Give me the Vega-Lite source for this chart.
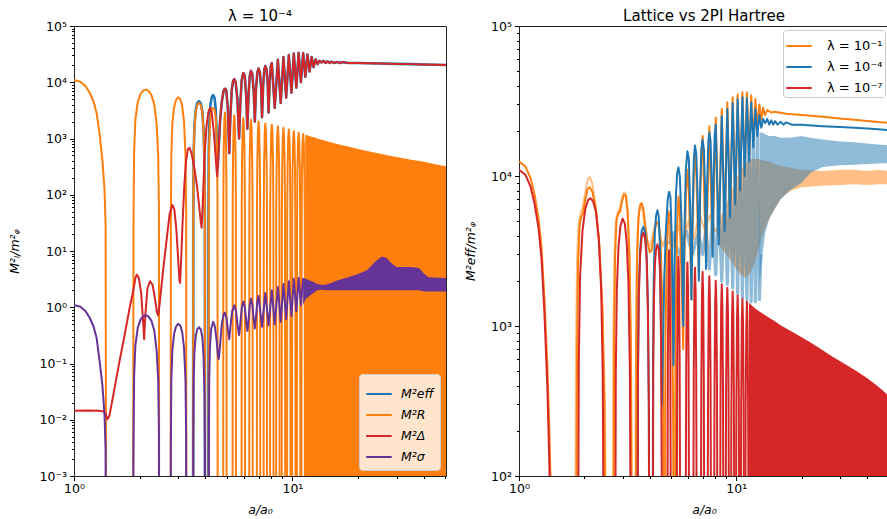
{
"$schema":"https://vega.github.io/schema/vega-lite/v6.json",
"background":"white",
"padding":{"left":8,"top":8,"right":0,"bottom":0},
"config":{
 "font":"DejaVu Sans",
 "view":{"stroke":"#222","strokeWidth":1},
 "axis":{"grid":false,"domain":false,"labelFont":"DejaVu Sans","labelFontSize":12.5,"labelColor":"#000","titleFont":"DejaVu Sans","titleFontSize":12.5,"titleFontWeight":"normal","titleFontStyle":"italic","titleColor":"#000","tickColor":"#000","tickWidth":1,"labelPadding":3,"labelOverlap":false,"labelFlush":false,"labelBound":false},
 "title":{"font":"DejaVu Sans","fontSize":15,"fontWeight":"normal","color":"#000","offset":-3.5},
 "legend":{"labelFont":"DejaVu Sans","labelFontSize":12.5,"labelColor":"#000","symbolType":"stroke","symbolStrokeWidth":2,"fillColor":"rgba(255,255,255,0.8)","strokeColor":"#cccccc","cornerRadius":3,"padding":6,"labelOffset":8}
},
"datasets":{
"A":[
{"x":1,"g":0,"o":11000,"r":11000},{"x":1.07,"g":0,"o":10200,"r":10200},{"x":1.13,"g":0,"o":8500,"r":8500},{"x":1.18,"g":0,"o":6500,"r":6500},{"x":1.23,"g":0,"o":4500,"r":4500},{"x":1.27,"g":0,"o":2800,"r":2800},{"x":1.31,"g":0,"o":1200,"r":1200},{"x":1.35,"g":0,"o":400,"r":400},{"x":1.38,"g":0,"o":120,"r":120},{"x":1.395,"g":0,"o":30,"r":30},{"x":1.405,"g":0,"o":1e-5,"r":1e-5},
{"x":1.865,"g":1,"o":1e-5,"r":1e-5},{"x":1.872,"g":1,"o":30,"r":29},{"x":1.885,"g":1,"o":600,"r":576},{"x":1.91,"g":1,"o":2200,"r":2110},{"x":1.96,"g":1,"o":4500,"r":4320},{"x":2.02,"g":1,"o":6300,"r":6050},{"x":2.08,"g":1,"o":7200,"r":6910},{"x":2.13,"g":1,"o":7400,"r":7100},{"x":2.19,"g":1,"o":7100,"r":6820},{"x":2.26,"g":1,"o":6000,"r":5760},{"x":2.33,"g":1,"o":4000,"r":3840},{"x":2.39,"g":1,"o":1800,"r":1730},{"x":2.43,"g":1,"o":500,"r":480},{"x":2.448,"g":1,"o":60,"r":58},{"x":2.455,"g":1,"o":1e-5,"r":1e-5},
{"x":2.77,"g":2,"o":1e-5,"r":1e-5},{"x":2.776,"g":2,"o":30,"r":29},{"x":2.79,"g":2,"o":500,"r":480},{"x":2.82,"g":2,"o":1800,"r":1730},{"x":2.87,"g":2,"o":3500,"r":3370},{"x":2.93,"g":2,"o":4800,"r":4620},{"x":3.0,"g":2,"o":5400,"r":5200},{"x":3.07,"g":2,"o":5000,"r":4820},{"x":3.13,"g":2,"o":3800,"r":3660},{"x":3.19,"g":2,"o":2000,"r":1930},{"x":3.24,"g":2,"o":500,"r":480},{"x":3.262,"g":2,"o":50,"r":48},{"x":3.27,"g":2,"o":1e-5,"r":1e-5},
{"x":3.51,"g":3,"o":1e-5,"r":1e-5},{"x":3.516,"g":3,"o":30,"r":29},{"x":3.53,"g":3,"o":500,"r":490},{"x":3.56,"g":3,"o":1600,"r":1560},{"x":3.61,"g":3,"o":3000,"r":2930},{"x":3.67,"g":3,"o":4000,"r":3910},{"x":3.74,"g":3,"o":4300,"r":4200},{"x":3.81,"g":3,"o":3900,"r":3810},{"x":3.87,"g":3,"o":2800,"r":2740},{"x":3.92,"g":3,"o":1300,"r":1270},{"x":3.96,"g":3,"o":300,"r":293},{"x":3.975,"g":3,"o":30,"r":29},{"x":3.98,"g":3,"o":1e-5,"r":1e-5},
{"x":4.13,"g":4,"o":1e-5,"r":1e-5},{"x":4.136,"g":4,"o":30,"r":30},{"x":4.15,"g":4,"o":500,"r":500},{"x":4.18,"g":4,"o":1500,"r":1500},{"x":4.23,"g":4,"o":2700,"r":2700},{"x":4.28,"g":4,"o":3300,"r":3300},{"x":4.34,"g":4,"o":3500,"r":3500},{"x":4.4,"g":4,"o":3200,"r":3200},{"x":4.46,"g":4,"o":2300,"r":2300},{"x":4.51,"g":4,"o":800,"r":800},{"x":4.54,"g":4,"o":100,"r":100},{"x":4.55,"g":4,"o":1e-5,"r":1e-5},
{"x":4.82,"g":5,"o":1e-5,"r":1e-5},{"x":4.829,"g":5,"o":87,"r":96},{"x":4.847,"g":5,"o":580,"r":640},{"x":4.8785,"g":5,"o":2030,"r":2240},{"x":4.91,"g":5,"o":2900,"r":3200},{"x":4.9415,"g":5,"o":2030,"r":2240},{"x":4.973,"g":5,"o":580,"r":640},{"x":4.991,"g":5,"o":87,"r":96},{"x":5.0,"g":5,"o":1e-5,"r":1e-5},
{"x":5.32,"g":6,"o":1e-5,"r":1e-5},{"x":5.33,"g":6,"o":78,"r":87},{"x":5.35,"g":6,"o":520,"r":580},{"x":5.385,"g":6,"o":1820,"r":2030},{"x":5.42,"g":6,"o":2600,"r":2900},{"x":5.455,"g":6,"o":1820,"r":2030},{"x":5.49,"g":6,"o":520,"r":580},{"x":5.51,"g":6,"o":78,"r":87},{"x":5.52,"g":6,"o":1e-5,"r":1e-5},
{"x":5.85,"g":7,"o":1e-5,"r":1e-5},{"x":5.861,"g":7,"o":69,"r":80},{"x":5.883,"g":7,"o":460,"r":530},{"x":5.9215,"g":7,"o":1610,"r":1855},{"x":5.96,"g":7,"o":2300,"r":2650},{"x":5.9985,"g":7,"o":1610,"r":1855},{"x":6.037,"g":7,"o":460,"r":530},{"x":6.059,"g":7,"o":69,"r":80},{"x":6.07,"g":7,"o":1e-5,"r":1e-5},
{"x":6.34,"g":8,"o":1e-5,"r":1e-5},{"x":6.352,"g":8,"o":65,"r":74},{"x":6.376,"g":8,"o":430,"r":490},{"x":6.418,"g":8,"o":1505,"r":1715},{"x":6.46,"g":8,"o":2150,"r":2450},{"x":6.502,"g":8,"o":1505,"r":1715},{"x":6.544,"g":8,"o":430,"r":490},{"x":6.568,"g":8,"o":65,"r":74},{"x":6.58,"g":8,"o":1e-5,"r":1e-5},
{"x":6.87,"g":9,"o":1e-5,"r":1e-5},{"x":6.883,"g":9,"o":60,"r":69},{"x":6.909,"g":9,"o":400,"r":460},{"x":6.9545,"g":9,"o":1400,"r":1610},{"x":7.0,"g":9,"o":2000,"r":2300},{"x":7.0455,"g":9,"o":1400,"r":1610},{"x":7.091,"g":9,"o":400,"r":460},{"x":7.117,"g":9,"o":60,"r":69},{"x":7.13,"g":9,"o":1e-5,"r":1e-5},
{"x":7.38,"g":10,"o":1e-5,"r":1e-5},{"x":7.394,"g":10,"o":56,"r":65},{"x":7.422,"g":10,"o":370,"r":430},{"x":7.471,"g":10,"o":1295,"r":1505},{"x":7.52,"g":10,"o":1850,"r":2150},{"x":7.569,"g":10,"o":1295,"r":1505},{"x":7.618,"g":10,"o":370,"r":430},{"x":7.646,"g":10,"o":56,"r":65},{"x":7.66,"g":10,"o":1e-5,"r":1e-5},
{"x":7.9,"g":11,"o":1e-5,"r":1e-5},{"x":7.915,"g":11,"o":53,"r":60},{"x":7.945,"g":11,"o":350,"r":400},{"x":7.9975,"g":11,"o":1225,"r":1400},{"x":8.05,"g":11,"o":1750,"r":2000},{"x":8.1025,"g":11,"o":1225,"r":1400},{"x":8.155,"g":11,"o":350,"r":400},{"x":8.185,"g":11,"o":53,"r":60},{"x":8.2,"g":11,"o":1e-5,"r":1e-5},
{"x":8.42,"g":12,"o":1e-5,"r":1e-5},{"x":8.436,"g":12,"o":50,"r":57},{"x":8.468,"g":12,"o":330,"r":380},{"x":8.524,"g":12,"o":1155,"r":1330},{"x":8.58,"g":12,"o":1650,"r":1900},{"x":8.636,"g":12,"o":1155,"r":1330},{"x":8.692,"g":12,"o":330,"r":380},{"x":8.724,"g":12,"o":50,"r":57},{"x":8.74,"g":12,"o":1e-5,"r":1e-5},
{"x":8.93,"g":13,"o":1e-5,"r":1e-5},{"x":8.947,"g":13,"o":47,"r":54},{"x":8.981,"g":13,"o":310,"r":360},{"x":9.0405,"g":13,"o":1085,"r":1260},{"x":9.1,"g":13,"o":1550,"r":1800},{"x":9.1595,"g":13,"o":1085,"r":1260},{"x":9.219,"g":13,"o":310,"r":360},{"x":9.253,"g":13,"o":47,"r":54},{"x":9.27,"g":13,"o":1e-5,"r":1e-5},
{"x":9.45,"g":14,"o":1e-5,"r":1e-5},{"x":9.468,"g":14,"o":44,"r":51},{"x":9.504,"g":14,"o":290,"r":340},{"x":9.567,"g":14,"o":1015,"r":1190},{"x":9.63,"g":14,"o":1450,"r":1700},{"x":9.693,"g":14,"o":1015,"r":1190},{"x":9.756,"g":14,"o":290,"r":340},{"x":9.792,"g":14,"o":44,"r":51},{"x":9.81,"g":14,"o":1e-5,"r":1e-5},
{"x":9.96,"g":15,"o":1e-5,"r":1e-5},{"x":9.979,"g":15,"o":41,"r":48},{"x":10.017,"g":15,"o":270,"r":320},{"x":10.0835,"g":15,"o":945,"r":1120},{"x":10.15,"g":15,"o":1350,"r":1600},{"x":10.2165,"g":15,"o":945,"r":1120},{"x":10.283,"g":15,"o":270,"r":320},{"x":10.321,"g":15,"o":41,"r":48},{"x":10.34,"g":15,"o":1e-5,"r":1e-5},
{"x":10.48,"g":16,"o":1e-5,"r":1e-5},{"x":10.5,"g":16,"o":38,"r":46},{"x":10.54,"g":16,"o":254,"r":304},{"x":10.61,"g":16,"o":889,"r":1064},{"x":10.68,"g":16,"o":1270,"r":1520},{"x":10.75,"g":16,"o":889,"r":1064},{"x":10.82,"g":16,"o":254,"r":304},{"x":10.86,"g":16,"o":38,"r":46},{"x":10.88,"g":16,"o":1e-5,"r":1e-5},
{"x":10.99,"g":17,"o":1e-5,"r":1e-5},{"x":11.011,"g":17,"o":36,"r":44},{"x":11.053,"g":17,"o":240,"r":290},{"x":11.1265,"g":17,"o":840,"r":1015},{"x":11.2,"g":17,"o":1200,"r":1450},{"x":11.2735,"g":17,"o":840,"r":1015},{"x":11.347,"g":17,"o":240,"r":290},{"x":11.389,"g":17,"o":36,"r":44},{"x":11.41,"g":17,"o":1e-5,"r":1e-5}
],
"band":[
{"x":11.45,"lo":1e-5,"oh":1180,"rh":1430},{"x":12,"lo":1e-5,"oh":1100,"rh":1340},{"x":12.6,"lo":1e-5,"oh":1050,"rh":1270},{"x":13,"lo":1e-5,"oh":1000,"rh":1230},{"x":14,"lo":1e-5,"oh":920,"rh":1150},{"x":15,"lo":1e-5,"oh":860,"rh":1080},{"x":16,"lo":1e-5,"oh":800,"rh":1010},{"x":18,"lo":1e-5,"oh":720,"rh":920},{"x":20,"lo":1e-5,"oh":650,"rh":840},{"x":22,"lo":1e-5,"oh":600,"rh":775},{"x":25,"lo":1e-5,"oh":540,"rh":690},{"x":28,"lo":1e-5,"oh":495,"rh":620},{"x":30,"lo":1e-5,"oh":470,"rh":585},{"x":35,"lo":1e-5,"oh":420,"rh":510},{"x":40,"lo":1e-5,"oh":385,"rh":450},{"x":45,"lo":1e-5,"oh":350,"rh":395},{"x":50.5,"lo":1e-5,"oh":322,"rh":342}
],
"Be":[
{"x":3.51,"g":3,"v":1e-5},{"x":3.516,"g":3,"v":30},{"x":3.53,"g":3,"v":500},{"x":3.56,"g":3,"v":1700},{"x":3.61,"g":3,"v":3200},{"x":3.67,"g":3,"v":4300},{"x":3.74,"g":3,"v":4600},{"x":3.81,"g":3,"v":4200},{"x":3.87,"g":3,"v":3000},{"x":3.92,"g":3,"v":1400},{"x":3.96,"g":3,"v":300},{"x":3.975,"g":3,"v":30},{"x":3.98,"g":3,"v":1e-5},
{"x":4.12,"g":4,"v":1e-5},{"x":4.127,"g":4,"v":30},{"x":4.14,"g":4,"v":600},{"x":4.17,"g":4,"v":2000},{"x":4.22,"g":4,"v":4200},{"x":4.28,"g":4,"v":5500},{"x":4.34,"g":4,"v":5900},{"x":4.4,"g":4,"v":5300},{"x":4.45,"g":4,"v":3500},{"x":4.49,"g":4,"v":1500},{"x":4.52,"g":4,"v":500},{"x":4.55,"g":4,"v":300},{"x":4.58,"g":4,"v":500},{"x":4.66,"g":4,"v":2000},{"x":4.75,"g":4,"v":4500},{"x":4.84,"g":4,"v":7000},{"x":4.91,"g":4,"v":7900}
],
"De":[
{"x":1.0,"v":0.0145},{"x":1.15,"v":0.0146},{"x":1.3,"v":0.0145},{"x":1.37,"v":0.014},{"x":1.4,"v":0.0125},{"x":1.42,"v":0.0102},{"x":1.45,"v":0.0115},{"x":1.52,"v":0.03},{"x":1.6,"v":0.09},{"x":1.7,"v":0.3},{"x":1.8,"v":1.0},{"x":1.87,"v":2.0},{"x":1.91,"v":3.3},{"x":1.94,"v":3.8},{"x":1.98,"v":3.3},{"x":2.03,"v":1.8},{"x":2.07,"v":0.6},{"x":2.095,"v":0.27},{"x":2.12,"v":0.7},{"x":2.17,"v":2.2},{"x":2.23,"v":2.9},{"x":2.29,"v":2.5},{"x":2.35,"v":1.4},{"x":2.4,"v":0.8},{"x":2.43,"v":0.72},{"x":2.47,"v":1.2},{"x":2.55,"v":4},{"x":2.65,"v":15},{"x":2.74,"v":45},{"x":2.82,"v":66},{"x":2.88,"v":55},{"x":2.94,"v":25},{"x":3.0,"v":7},{"x":3.04,"v":3},{"x":3.06,"v":2.7},{"x":3.09,"v":6},{"x":3.14,"v":30},{"x":3.2,"v":150},{"x":3.26,"v":400},{"x":3.32,"v":650},{"x":3.38,"v":680},{"x":3.45,"v":550},{"x":3.55,"v":320},{"x":3.65,"v":150},{"x":3.73,"v":70},{"x":3.8,"v":35},{"x":3.84,"v":26},{"x":3.88,"v":60},{"x":3.96,"v":500},{"x":4.04,"v":1600},{"x":4.12,"v":2900},{"x":4.19,"v":3500},{"x":4.27,"v":2900},{"x":4.36,"v":1400},{"x":4.44,"v":550},{"x":4.5,"v":260},{"x":4.53,"v":213},{"x":4.58,"v":500},{"x":4.66,"v":2000},{"x":4.75,"v":4500},{"x":4.84,"v":7000},{"x":4.91,"v":7900}
],
"U":[
{"x":4.91,"v":7900},{"x":4.98,"v":7200},{"x":5.06,"v":3500},{"x":5.14,"v":550},{"x":5.2,"v":2500},{"x":5.28,"v":7500},{"x":5.35,"v":10500},{"x":5.42,"v":11400},{"x":5.5,"v":10000},{"x":5.6,"v":5000},{"x":5.7,"v":1000},{"x":5.77,"v":4000},{"x":5.86,"v":11000},{"x":5.96,"v":14600},{"x":6.05,"v":13000},{"x":6.14,"v":6000},{"x":6.22,"v":1500},{"x":6.3,"v":6000},{"x":6.38,"v":13000},{"x":6.46,"v":16000},{"x":6.55,"v":14000},{"x":6.65,"v":7000},{"x":6.73,"v":2000},{"x":6.82,"v":8000},{"x":6.91,"v":15000},{"x":7.0,"v":17500},{"x":7.1,"v":15000},{"x":7.19,"v":8000},{"x":7.26,"v":2400},{"x":7.35,"v":9000},{"x":7.44,"v":17000},{"x":7.52,"v":19500},{"x":7.62,"v":17000},{"x":7.71,"v":9000},{"x":7.78,"v":2900},{"x":7.87,"v":10000},{"x":7.96,"v":19000},{"x":8.05,"v":22000},{"x":8.3,"v":3500},{"x":8.58,"v":25000},{"x":8.84,"v":4300},{"x":9.1,"v":28000},{"x":9.36,"v":5300},{"x":9.63,"v":30500},{"x":9.9,"v":6500},{"x":10.15,"v":32500},{"x":10.42,"v":8000},{"x":10.68,"v":33500},{"x":10.94,"v":10000},{"x":11.2,"v":33000},{"x":11.46,"v":12500},{"x":11.72,"v":31000},{"x":11.98,"v":15500},{"x":12.25,"v":28000},{"x":12.5,"v":18500},{"x":12.78,"v":25500},{"x":13.04,"v":21000},{"x":13.3,"v":24000},{"x":13.6,"v":22500},{"x":13.9,"v":24000},{"x":14.2,"v":22000},{"x":14.5,"v":23500},{"x":14.8,"v":22000},{"x":15.1,"v":23200},{"x":15.5,"v":22000},{"x":16,"v":23000},{"x":16.5,"v":22000},{"x":17,"v":22800},{"x":18,"v":22000},{"x":20,"v":22000},{"x":25,"v":21500},{"x":30,"v":21200},{"x":35,"v":21000},{"x":40,"v":20700},{"x":45,"v":20500},{"x":50.5,"v":20200}
],
"P":[
{"x":1,"g":0,"v":1.1},{"x":1.07,"g":0,"v":1.02},{"x":1.13,"g":0,"v":0.85},{"x":1.18,"g":0,"v":0.65},{"x":1.23,"g":0,"v":0.45},{"x":1.27,"g":0,"v":0.28},{"x":1.31,"g":0,"v":0.11},{"x":1.35,"g":0,"v":0.04},{"x":1.38,"g":0,"v":0.012},{"x":1.395,"g":0,"v":0.003},{"x":1.4,"g":0,"v":1e-6},
{"x":1.865,"g":1,"v":1e-6},{"x":1.872,"g":1,"v":0.003},{"x":1.885,"g":1,"v":0.06},{"x":1.91,"g":1,"v":0.21},{"x":1.96,"g":1,"v":0.44},{"x":2.02,"g":1,"v":0.61},{"x":2.08,"g":1,"v":0.7},{"x":2.13,"g":1,"v":0.72},{"x":2.19,"g":1,"v":0.69},{"x":2.26,"g":1,"v":0.58},{"x":2.33,"g":1,"v":0.39},{"x":2.39,"g":1,"v":0.17},{"x":2.43,"g":1,"v":0.05},{"x":2.448,"g":1,"v":0.006},{"x":2.455,"g":1,"v":1e-6},
{"x":2.77,"g":2,"v":1e-6},{"x":2.776,"g":2,"v":0.003},{"x":2.79,"g":2,"v":0.05},{"x":2.82,"g":2,"v":0.17},{"x":2.87,"g":2,"v":0.33},{"x":2.93,"g":2,"v":0.45},{"x":3.0,"g":2,"v":0.51},{"x":3.07,"g":2,"v":0.47},{"x":3.13,"g":2,"v":0.36},{"x":3.19,"g":2,"v":0.19},{"x":3.24,"g":2,"v":0.05},{"x":3.262,"g":2,"v":0.005},{"x":3.27,"g":2,"v":1e-6},
{"x":3.51,"g":3,"v":1e-6},{"x":3.516,"g":3,"v":0.003},{"x":3.53,"g":3,"v":0.05},{"x":3.56,"g":3,"v":0.16},{"x":3.61,"g":3,"v":0.31},{"x":3.67,"g":3,"v":0.41},{"x":3.74,"g":3,"v":0.44},{"x":3.81,"g":3,"v":0.4},{"x":3.87,"g":3,"v":0.29},{"x":3.92,"g":3,"v":0.13},{"x":3.96,"g":3,"v":0.03},{"x":3.975,"g":3,"v":0.003},{"x":3.98,"g":3,"v":1e-6},
{"x":4.14,"g":4,"v":1e-6},{"x":4.146,"g":4,"v":0.003},{"x":4.16,"g":4,"v":0.05},{"x":4.19,"g":4,"v":0.2},{"x":4.25,"g":4,"v":0.42},{"x":4.34,"g":4,"v":0.55},{"x":4.42,"g":4,"v":0.45},{"x":4.5,"g":4,"v":0.25},{"x":4.56,"g":4,"v":0.14},{"x":4.6,"g":4,"v":0.12},{"x":4.66,"g":4,"v":0.2},{"x":4.75,"g":4,"v":0.5},{"x":4.84,"g":4,"v":0.74},{"x":4.91,"g":4,"v":0.8},{"x":4.99,"g":4,"v":0.65},{"x":5.07,"g":4,"v":0.38},{"x":5.14,"g":4,"v":0.27},{"x":5.2,"g":4,"v":0.45},{"x":5.3,"g":4,"v":0.85},{"x":5.42,"g":4,"v":1.08},{"x":5.52,"g":4,"v":0.85},{"x":5.62,"g":4,"v":0.45},{"x":5.7,"g":4,"v":0.32},{"x":5.77,"g":4,"v":0.5},{"x":5.86,"g":4,"v":0.95},{"x":5.96,"g":4,"v":1.26},{"x":6.06,"g":4,"v":1.0},{"x":6.15,"g":4,"v":0.55},{"x":6.22,"g":4,"v":0.38},{"x":6.3,"g":4,"v":0.6},{"x":6.38,"g":4,"v":1.1},{"x":6.46,"g":4,"v":1.42},{"x":6.56,"g":4,"v":1.1},{"x":6.65,"g":4,"v":0.6},{"x":6.73,"g":4,"v":0.42},{"x":6.82,"g":4,"v":0.7},{"x":6.91,"g":4,"v":1.25},{"x":7.0,"g":4,"v":1.58},{"x":7.26,"g":4,"v":0.45},{"x":7.52,"g":4,"v":1.8},{"x":7.78,"g":4,"v":0.48},{"x":8.05,"g":4,"v":2.0},{"x":8.3,"g":4,"v":0.5},{"x":8.58,"g":4,"v":2.3},{"x":8.84,"g":4,"v":0.55},{"x":9.1,"g":4,"v":2.6},{"x":9.36,"g":4,"v":0.62},{"x":9.63,"g":4,"v":2.9},{"x":9.9,"g":4,"v":0.7},{"x":10.15,"g":4,"v":3.2},{"x":10.42,"g":4,"v":0.85},{"x":10.68,"g":4,"v":3.35},{"x":10.94,"g":4,"v":1.1},{"x":11.2,"g":4,"v":3.3}
],
"Pb":[
{"x":11.2,"lo":1.1,"v":3.3},{"x":11.5,"lo":1.4,"v":3.2},{"x":12,"lo":1.6,"v":3.0},{"x":12.5,"lo":1.8,"v":2.8},{"x":13,"lo":2.0,"v":2.6},{"x":13.5,"lo":2.05,"v":2.5},{"x":14.2,"lo":2.0,"v":2.5},{"x":15,"lo":2.0,"v":2.7},{"x":16,"lo":2.0,"v":3.0},{"x":18,"lo":2.0,"v":3.4},{"x":20,"lo":2.0,"v":3.9},{"x":22,"lo":2.0,"v":4.6},{"x":24,"lo":2.0,"v":6.5},{"x":25.7,"lo":2.0,"v":8.0},{"x":27,"lo":2.0,"v":7.5},{"x":28.5,"lo":2.0,"v":6.0},{"x":30,"lo":2.0,"v":5.2},{"x":35,"lo":2.0,"v":5.2},{"x":38,"lo":2.0,"v":5.0},{"x":40,"lo":1.9,"v":4.0},{"x":42,"lo":1.9,"v":3.4},{"x":50.5,"lo":1.9,"v":3.3}
],
"Ro":[
{"x":1,"g":0,"v":12500},{"x":1.07,"g":0,"v":11600},{"x":1.13,"g":0,"v":9700},{"x":1.18,"g":0,"v":7500},{"x":1.23,"g":0,"v":5200},{"x":1.27,"g":0,"v":3300},{"x":1.31,"g":0,"v":1500},{"x":1.35,"g":0,"v":550},{"x":1.38,"g":0,"v":200},{"x":1.4,"g":0,"v":80},{"x":1.415,"g":0,"v":1},
{"x":1.83,"g":1,"v":1},{"x":1.838,"g":1,"v":60},{"x":1.85,"g":1,"v":600},{"x":1.87,"g":1,"v":2500},{"x":1.9,"g":1,"v":4600},{"x":1.93,"g":1,"v":5300},{"x":1.97,"g":1,"v":5600},{"x":2.02,"g":1,"v":7000},{"x":2.07,"g":1,"v":8200},{"x":2.12,"g":1,"v":8400},{"x":2.18,"g":1,"v":7800},{"x":2.26,"g":1,"v":6000},{"x":2.34,"g":1,"v":3500},{"x":2.42,"g":1,"v":1300},{"x":2.47,"g":1,"v":300},{"x":2.495,"g":1,"v":40},{"x":2.5,"g":1,"v":1},
{"x":2.72,"g":2,"v":1},{"x":2.728,"g":2,"v":60},{"x":2.74,"g":2,"v":800},{"x":2.77,"g":2,"v":3000},{"x":2.81,"g":2,"v":5000},{"x":2.86,"g":2,"v":5600},{"x":2.92,"g":2,"v":5800},{"x":2.98,"g":2,"v":6800},{"x":3.04,"g":2,"v":7500},{"x":3.1,"g":2,"v":7400},{"x":3.16,"g":2,"v":5800},{"x":3.22,"g":2,"v":3000},{"x":3.27,"g":2,"v":800},{"x":3.295,"g":2,"v":80},{"x":3.3,"g":2,"v":1},
{"x":3.45,"g":3,"v":1},{"x":3.458,"g":3,"v":60},{"x":3.47,"g":3,"v":800},{"x":3.5,"g":3,"v":3000},{"x":3.55,"g":3,"v":5300},{"x":3.61,"g":3,"v":6400},{"x":3.67,"g":3,"v":6600},{"x":3.74,"g":3,"v":6000},{"x":3.82,"g":3,"v":4600},{"x":3.92,"g":3,"v":3500},{"x":4.0,"g":3,"v":3100},{"x":4.08,"g":3,"v":3200},{"x":4.2,"g":3,"v":4300},{"x":4.3,"g":3,"v":4900},{"x":4.39,"g":3,"v":4900},{"x":4.48,"g":3,"v":3800},{"x":4.56,"g":3,"v":1500},{"x":4.62,"g":3,"v":300},{"x":4.65,"g":3,"v":1},
{"x":4.68,"g":4,"v":1},{"x":4.72,"g":4,"v":800},{"x":4.8,"g":4,"v":3500},{"x":4.88,"g":4,"v":5800},{"x":4.96,"g":4,"v":5000},{"x":5.06,"g":4,"v":1500},{"x":5.13,"g":4,"v":200},{"x":5.16,"g":4,"v":1},
{"x":5.2,"g":5,"v":1},{"x":5.25,"g":5,"v":800},{"x":5.33,"g":5,"v":4000},{"x":5.42,"g":5,"v":7300},{"x":5.5,"g":5,"v":6000},{"x":5.6,"g":5,"v":2000},{"x":5.7,"g":5,"v":700},{"x":5.78,"g":5,"v":3000},{"x":5.87,"g":5,"v":7500},{"x":5.96,"g":5,"v":11000},{"x":6.05,"g":5,"v":8000},{"x":6.14,"g":5,"v":3500},{"x":6.22,"g":5,"v":1500},{"x":6.3,"g":5,"v":4500},{"x":6.38,"g":5,"v":10000},{"x":6.46,"g":5,"v":14000},{"x":6.56,"g":5,"v":10000},{"x":6.65,"g":5,"v":4500},{"x":6.73,"g":5,"v":2200},{"x":6.82,"g":5,"v":7000},{"x":6.91,"g":5,"v":14000},{"x":7.0,"g":5,"v":18500},{"x":7.26,"g":5,"v":2800},{"x":7.52,"g":5,"v":21500},{"x":7.78,"g":5,"v":3300},{"x":8.05,"g":5,"v":24500},{"x":8.3,"g":5,"v":3800},{"x":8.58,"g":5,"v":28000},{"x":8.84,"g":5,"v":4500},{"x":9.1,"g":5,"v":31000},{"x":9.36,"g":5,"v":5500},{"x":9.63,"g":5,"v":33500},{"x":9.9,"g":5,"v":6500},{"x":10.15,"g":5,"v":35000},{"x":10.42,"g":5,"v":8000},{"x":10.68,"g":5,"v":36200},{"x":10.94,"g":5,"v":10000},{"x":11.2,"g":5,"v":36000},{"x":11.46,"g":5,"v":13000},{"x":11.72,"g":5,"v":34500},{"x":11.98,"g":5,"v":17000},{"x":12.25,"g":5,"v":32500},{"x":12.5,"g":5,"v":21000},{"x":12.78,"g":5,"v":30000},{"x":13.04,"g":5,"v":24000},{"x":13.3,"g":5,"v":28500},{"x":13.55,"g":5,"v":25500},{"x":13.9,"g":5,"v":27500},{"x":14.5,"g":5,"v":26500},{"x":15,"g":5,"v":26800},{"x":17,"g":5,"v":26000},{"x":20,"g":5,"v":25500},{"x":25,"g":5,"v":24800},{"x":30,"g":5,"v":24200},{"x":35,"g":5,"v":23700},{"x":40,"g":5,"v":23300},{"x":45,"g":5,"v":22900},{"x":50.5,"g":5,"v":22600}
],
"LOa":[
{"x":1.81,"g":1,"v":1},{"x":1.818,"g":1,"v":60},{"x":1.83,"g":1,"v":700},{"x":1.85,"g":1,"v":2800},{"x":1.88,"g":1,"v":4800},{"x":1.92,"g":1,"v":5600},{"x":1.97,"g":1,"v":6300},{"x":2.03,"g":1,"v":8200},{"x":2.08,"g":1,"v":9600},{"x":2.12,"g":1,"v":9800},{"x":2.17,"g":1,"v":9000},{"x":2.25,"g":1,"v":6500},{"x":2.34,"g":1,"v":3600},{"x":2.43,"g":1,"v":1200},{"x":2.49,"g":1,"v":300},{"x":2.515,"g":1,"v":30},{"x":2.52,"g":1,"v":1},
{"x":2.7,"g":2,"v":1},{"x":2.708,"g":2,"v":60},{"x":2.72,"g":2,"v":800},{"x":2.75,"g":2,"v":3000},{"x":2.8,"g":2,"v":5200},{"x":2.86,"g":2,"v":5800},{"x":2.92,"g":2,"v":6200},{"x":2.98,"g":2,"v":7200},{"x":3.05,"g":2,"v":7800},{"x":3.11,"g":2,"v":7500},{"x":3.17,"g":2,"v":5600},{"x":3.23,"g":2,"v":2800},{"x":3.28,"g":2,"v":700},{"x":3.305,"g":2,"v":60},{"x":3.31,"g":2,"v":1},
{"x":3.43,"g":3,"v":1},{"x":3.44,"g":3,"v":200},{"x":3.47,"g":3,"v":2000},{"x":3.52,"g":3,"v":4500},{"x":3.58,"g":3,"v":6000},{"x":3.65,"g":3,"v":6400},{"x":3.72,"g":3,"v":5800},{"x":3.8,"g":3,"v":4400},{"x":3.9,"g":3,"v":3600},{"x":4.0,"g":3,"v":3400},{"x":4.1,"g":3,"v":3800},{"x":4.2,"g":3,"v":4600},{"x":4.3,"g":3,"v":5000},{"x":4.4,"g":3,"v":4600},{"x":4.5,"g":3,"v":3800},{"x":4.6,"g":3,"v":3400},{"x":4.7,"g":3,"v":3800},{"x":4.8,"g":3,"v":4400},{"x":4.9,"g":3,"v":4200},{"x":5.0,"g":3,"v":3600},{"x":5.1,"g":3,"v":3300},{"x":5.2,"g":3,"v":3800},{"x":5.35,"g":3,"v":4800},{"x":5.5,"g":3,"v":4200},{"x":5.65,"g":3,"v":3500},{"x":5.8,"g":3,"v":4000},{"x":6.0,"g":3,"v":5000},{"x":6.2,"g":3,"v":4200},{"x":6.4,"g":3,"v":3800},{"x":6.6,"g":3,"v":4800},{"x":6.8,"g":3,"v":5500},{"x":7.0,"g":3,"v":4800},{"x":7.2,"g":3,"v":4300},{"x":7.4,"g":3,"v":5000},{"x":7.6,"g":3,"v":5500},{"x":7.8,"g":3,"v":4800},{"x":8.0,"g":3,"v":4300},{"x":8.3,"g":3,"v":4500}
],
"LO":[
{"x":8.3,"lo":3500,"v":5000},{"x":9.0,"lo":3000,"v":6500},{"x":9.5,"lo":2700,"v":8000},{"x":10,"lo":2400,"v":9500},{"x":10.5,"lo":2200,"v":11000},{"x":11,"lo":2100,"v":12000},{"x":11.5,"lo":2200,"v":13000},{"x":12,"lo":2500,"v":13000},{"x":12.5,"lo":3000,"v":13000},{"x":13,"lo":3800,"v":12800},{"x":14,"lo":5000,"v":12500},{"x":15,"lo":6000,"v":12000},{"x":16,"lo":7000,"v":11700},{"x":17,"lo":7600,"v":11500},{"x":18,"lo":8000,"v":11300},{"x":20,"lo":8400,"v":11000},{"x":25,"lo":8600,"v":10800},{"x":30,"lo":8700,"v":11000},{"x":35,"lo":8800,"v":11000},{"x":40,"lo":8700,"v":10800},{"x":45,"lo":8800,"v":11000},{"x":50.5,"lo":8800,"v":10800}
],
"LBl":[
{"x":4.9,"v":3500},{"x":5.1,"v":4200},{"x":5.3,"v":3400},{"x":5.5,"v":3000},{"x":5.7,"v":3800},{"x":5.9,"v":4300},{"x":6.1,"v":3500},{"x":6.3,"v":3000},{"x":6.5,"v":3600},{"x":6.7,"v":4200},{"x":6.9,"v":3400},{"x":7.0,"v":3000},{"x":7.26,"v":4500},{"x":7.52,"v":2400},{"x":7.78,"v":5500},{"x":8.05,"v":2200},{"x":8.3,"v":7000},{"x":8.58,"v":2000},{"x":8.84,"v":8500},{"x":9.1,"v":1900},{"x":9.36,"v":10000},{"x":9.63,"v":1800},{"x":9.9,"v":11500},{"x":10.15,"v":1650},{"x":10.42,"v":13000},{"x":10.68,"v":1550},{"x":10.94,"v":15000},{"x":11.2,"v":1500},{"x":11.46,"v":17000},{"x":11.72,"v":1450},{"x":11.98,"v":18500},{"x":12.25,"v":1450},{"x":12.5,"v":19500},{"x":12.78,"v":1500},{"x":13.0,"v":3000}
],
"LB":[
{"x":12.8,"lo":1800,"v":19500},{"x":13.0,"lo":2600,"v":19500},{"x":13.2,"lo":3000,"v":19500},{"x":13.6,"lo":4200,"v":19000},{"x":14.2,"lo":5200,"v":18500},{"x":15,"lo":6000,"v":18500},{"x":16,"lo":7000,"v":18000},{"x":17.6,"lo":8000,"v":18000},{"x":20,"lo":9000,"v":18500},{"x":22,"lo":10500,"v":18000},{"x":25,"lo":11500,"v":17500},{"x":30,"lo":11800,"v":17000},{"x":35,"lo":11900,"v":16800},{"x":40,"lo":12000,"v":16500},{"x":45,"lo":12100,"v":16200},{"x":50.5,"lo":12200,"v":16000}
]
},
"spacing":73,
"bounds":"flush",
"resolve":{"scale":{"color":"independent"},"legend":{"color":"independent"}},
"hconcat":[
{
 "width":372,"height":450,
 "title":"λ = 10⁻⁴",
 "encoding":{
  "x":{"field":"x","type":"quantitative","scale":{"type":"log","domain":[1,50.5],"nice":false},"axis":{"values":[1,2,3,4,5,6,7,8,9,10,20,30,40,50],"labelExpr":"datum.value==1?'10⁰':(datum.value==10?'10¹':'')","title":"a/a₀","titlePadding":8,"labelPadding":2,"tickSize":{"condition":{"test":"datum.value==1||datum.value==10","value":4.5},"value":2.5}}},
  "y":{"field":"v","type":"quantitative","scale":{"type":"log","domain":[0.001,100000],"nice":false},"axis":{"values":[0.001,0.002,0.003,0.004,0.005,0.006,0.007,0.008,0.009,0.01,0.02,0.03,0.04,0.05,0.06,0.07,0.08,0.09,0.1,0.2,0.3,0.4,0.5,0.6,0.7,0.8,0.9,1,2,3,4,5,6,7,8,9,10,20,30,40,50,60,70,80,90,100,200,300,400,500,600,700,800,900,1000,2000,3000,4000,5000,6000,7000,8000,9000,10000,20000,30000,40000,50000,60000,70000,80000,90000,100000],"labelExpr":"abs(log(datum.value)/LN10-round(log(datum.value)/LN10))>0.001?'':'10'+replace(replace(replace(replace(replace(replace(replace(''+round(log(datum.value)/LN10),'-','⁻'),'0','⁰'),'1','¹'),'2','²'),'3','³'),'4','⁴'),'5','⁵')","title":"M²ᵢ/m²ᵩ","titlePadding":17,"tickSize":{"condition":{"test":"abs(log(datum.value)/LN10-round(log(datum.value)/LN10))<0.001","value":4.5},"value":2.5}}}
 },
 "layer":[
  {"data":{"name":"Be"},"mark":{"type":"line","clip":true,"strokeWidth":2.6,"strokeJoin":"round"},"encoding":{"detail":{"field":"g"},"color":{"datum":"M²eff","type":"nominal","scale":{"domain":["M²eff","M²R","M²Δ","M²σ"],"range":["#1f77b4","#ff7f0e","#d62728","#663399"]},"legend":{"title":null,"orient":"bottom-right","offset":6,"labelFontStyle":"italic","symbolSize":650,"rowPadding":-2}}}},
  {"data":{"name":"U"},"mark":{"type":"line","clip":true,"strokeWidth":2.6,"strokeJoin":"round","color":"#1f77b4"},"encoding":{}},
  {"data":{"name":"A"},"mark":{"type":"line","clip":true,"strokeWidth":2,"strokeJoin":"round"},"encoding":{"y":{"field":"o","type":"quantitative","scale":{"type":"log","domain":[0.001,100000],"nice":false}},"detail":{"field":"g"},"color":{"datum":"M²R","type":"nominal"}}},
  {"data":{"name":"band"},"mark":{"type":"area","clip":true,"color":"#ff7f0e"},"encoding":{"y":{"field":"oh","type":"quantitative","scale":{"type":"log","domain":[0.001,100000],"nice":false}},"y2":{"field":"lo"}}},
  {"data":{"name":"De"},"mark":{"type":"line","clip":true,"strokeWidth":2,"strokeJoin":"round"},"encoding":{"color":{"datum":"M²Δ","type":"nominal"}}},
  {"data":{"name":"U"},"mark":{"type":"line","clip":true,"strokeWidth":2,"strokeJoin":"round","color":"#d62728"},"encoding":{}},
  {"data":{"name":"P"},"mark":{"type":"line","clip":true,"strokeWidth":2,"strokeJoin":"round"},"encoding":{"detail":{"field":"g"},"color":{"datum":"M²σ","type":"nominal"}}},
  {"data":{"name":"Pb"},"mark":{"type":"area","clip":true,"color":"#663399"},"encoding":{"y2":{"field":"lo"}}}
 ]
},
{
 "width":370,"height":450,
 "title":"Lattice vs 2PI Hartree",
 "encoding":{
  "x":{"field":"x","type":"quantitative","scale":{"type":"log","domain":[1,50.5],"nice":false},"axis":{"values":[1,2,3,4,5,6,7,8,9,10,20,30,40,50],"labelExpr":"datum.value==1?'10⁰':(datum.value==10?'10¹':'')","title":"a/a₀","titlePadding":8,"labelPadding":2,"tickSize":{"condition":{"test":"datum.value==1||datum.value==10","value":4.5},"value":2.5}}},
  "y":{"field":"v","type":"quantitative","scale":{"type":"log","domain":[100,100000],"nice":false},"axis":{"values":[100,200,300,400,500,600,700,800,900,1000,2000,3000,4000,5000,6000,7000,8000,9000,10000,20000,30000,40000,50000,60000,70000,80000,90000,100000],"labelExpr":"abs(log(datum.value)/LN10-round(log(datum.value)/LN10))>0.001?'':'10'+replace(replace(replace(replace(''+round(log(datum.value)/LN10),'2','²'),'3','³'),'4','⁴'),'5','⁵')","title":"M²eff/m²ᵩ","titlePadding":13,"tickSize":{"condition":{"test":"abs(log(datum.value)/LN10-round(log(datum.value)/LN10))<0.001","value":4.5},"value":2.5}}}
 },
 "layer":[
  {"data":{"name":"LOa"},"mark":{"type":"line","clip":true,"strokeWidth":2,"strokeJoin":"round","color":"#ff7f0e","opacity":0.5},"encoding":{"detail":{"field":"g"}}},
  {"data":{"name":"LO"},"mark":{"type":"area","clip":true,"color":"#ff7f0e","opacity":0.5},"encoding":{"y2":{"field":"lo"}}},
  {"data":{"name":"LBl"},"mark":{"type":"line","clip":true,"strokeWidth":3.2,"strokeJoin":"round","color":"#1f77b4","opacity":0.5},"encoding":{}},
  {"data":{"name":"LB"},"mark":{"type":"area","clip":true,"color":"#1f77b4","opacity":0.5},"encoding":{"y2":{"field":"lo"}}},
  {"data":{"name":"Ro"},"mark":{"type":"line","clip":true,"strokeWidth":2,"strokeJoin":"round"},"encoding":{"detail":{"field":"g"},"color":{"datum":"λ = 10⁻¹","type":"nominal","scale":{"domain":["λ = 10⁻¹","λ = 10⁻⁴","λ = 10⁻⁷"],"range":["#ff7f0e","#1f77b4","#d62728"]},"legend":{"title":null,"orient":"top-right","offset":4,"symbolSize":650,"rowPadding":-6,"padding":2,"labelOffset":14,"labelFontSize":13}}}},
  {"data":{"name":"Be"},"mark":{"type":"line","clip":true,"strokeWidth":2,"strokeJoin":"round"},"encoding":{"detail":{"field":"g"},"color":{"datum":"λ = 10⁻⁴","type":"nominal"}}},
  {"data":{"name":"U"},"mark":{"type":"line","clip":true,"strokeWidth":2,"strokeJoin":"round","color":"#1f77b4"},"encoding":{}},
  {"data":{"name":"A"},"mark":{"type":"line","clip":true,"strokeWidth":2,"strokeJoin":"round"},"encoding":{"y":{"field":"r","type":"quantitative","scale":{"type":"log","domain":[100,100000],"nice":false}},"detail":{"field":"g"},"color":{"datum":"λ = 10⁻⁷","type":"nominal"}}},
  {"data":{"name":"band"},"mark":{"type":"area","clip":true,"color":"#d62728"},"encoding":{"y":{"field":"rh","type":"quantitative","scale":{"type":"log","domain":[100,100000],"nice":false}},"y2":{"field":"lo"}}}
 ]
}
]
}
